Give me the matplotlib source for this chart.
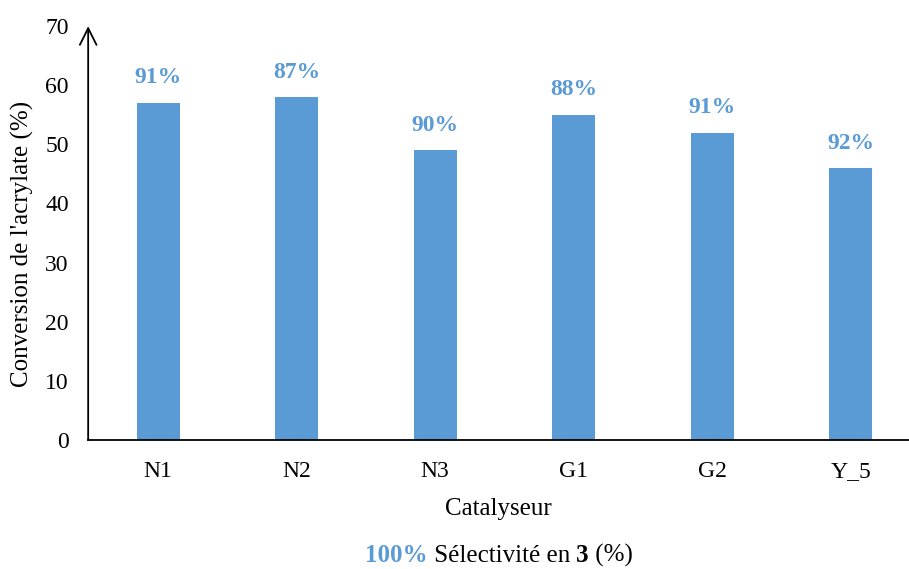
import matplotlib.pyplot as plt
from matplotlib.offsetbox import TextArea, HPacker, AnnotationBbox

plt.rcParams['font.family'] = ['Liberation Serif', 'DejaVu Serif']

catalysts = ['N1', 'N2', 'N3', 'G1', 'G2', 'Y_5']
conversion = [57, 58, 49, 55, 52, 46]
selectivity = ['91%', '87%', '90%', '88%', '91%', '92%']

blue = '#5B9BD5'

fig = plt.figure(figsize=(9.09, 5.69), dpi=100)
ax = fig.add_axes([0.097, 0.227, 0.903, 0.727])

x = range(len(catalysts))
ax.bar(x, conversion, width=0.31, color=blue)

for i, (v, s) in enumerate(zip(conversion, selectivity)):
    ax.annotate(s, (i, v), xytext=(0, 18), textcoords='offset points',
                ha='center', va='center', color=blue, fontweight='bold', fontsize=17)

ax.set_xlim(-0.505, 5.42)
ax.set_ylim(0, 70)
ax.set_yticks(range(0, 80, 10))
ax.set_xticks(list(x))
ax.set_xticklabels(catalysts)
ax.tick_params(axis='both', length=0, labelsize=17)
ax.tick_params(axis='y', pad=14)
ax.tick_params(axis='x', pad=15)

for side in ['top', 'right', 'left']:
    ax.spines[side].set_visible(False)
ax.spines['bottom'].set_linewidth(1.3)

# y axis with arrow head
ax.annotate('', xy=(0, 1.0), xycoords='axes fraction', xytext=(0, 0),
            arrowprops=dict(arrowstyle='->', lw=1.3, color='black',
                            mutation_scale=30, shrinkA=0, shrinkB=0))

ax.set_xlabel('Catalyseur', fontsize=18, labelpad=12)
ax.set_ylabel("Conversion de l'acrylate (%)", fontsize=18)
ax.yaxis.set_label_coords(-0.066, 0.473)

# bottom note with mixed styles
parts = [
    TextArea('100%', textprops=dict(color=blue, fontweight='bold', fontsize=18)),
    TextArea(' Sélectivité en ', textprops=dict(color='black', fontsize=18)),
    TextArea('3', textprops=dict(color='black', fontweight='bold', fontsize=18)),
    TextArea(' (%)', textprops=dict(color='black', fontsize=18)),
]
box = HPacker(children=parts, align='baseline', pad=0, sep=0)
ab = AnnotationBbox(box, (0.549, 0.024), xycoords='figure fraction',
                    frameon=False, box_alignment=(0.5, 0.5))
fig.add_artist(ab)

fig.savefig('out.png', dpi=100)
